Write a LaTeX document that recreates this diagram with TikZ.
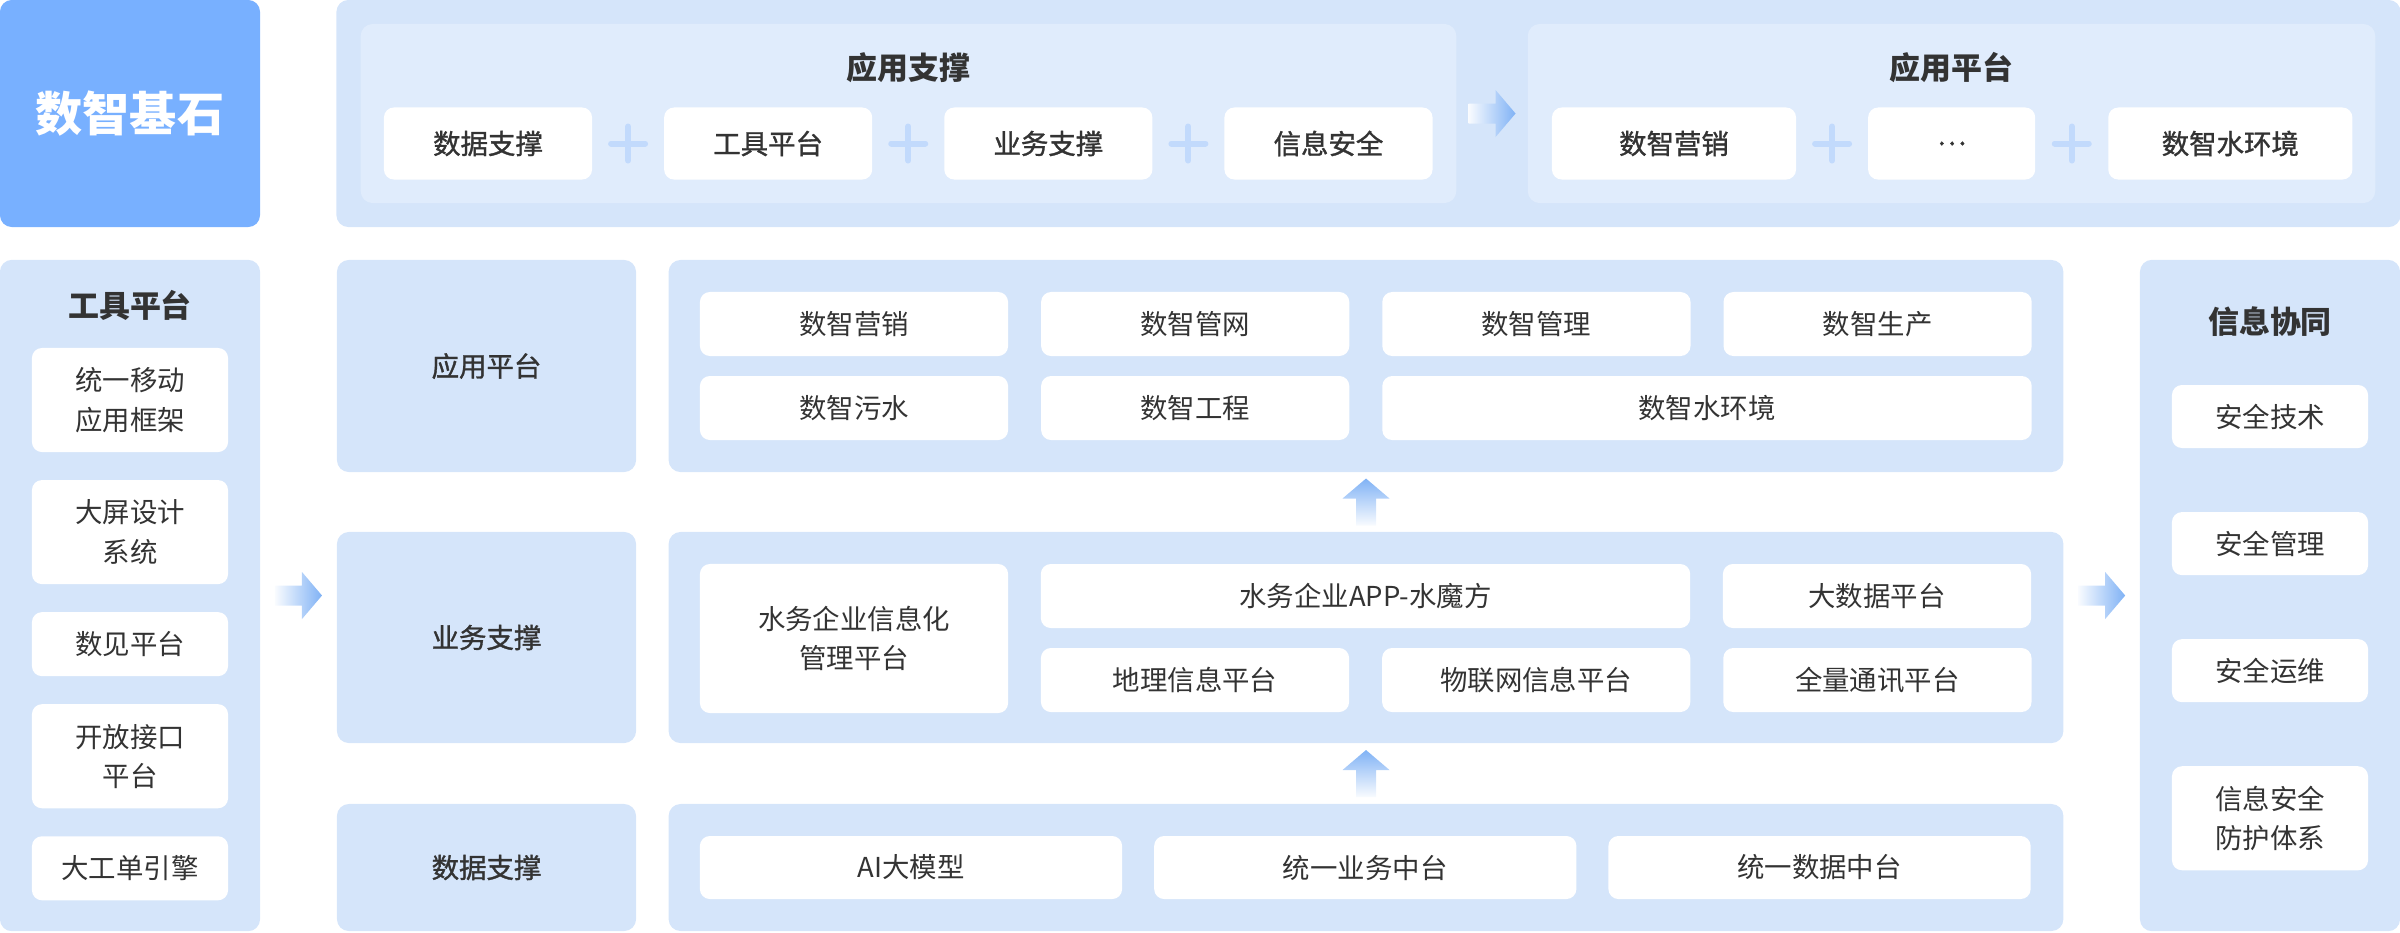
\documentclass[tikz,border=0pt]{standalone}
\usepackage{fontspec}
\setmainfont{Noto Sans CJK SC}
\newfontfamily\medfont[FakeBold=1.2]{Noto Sans CJK SC}
\usetikzlibrary{calc, positioning}
\definecolor{BaseBlue}{RGB}{120,176,255}
\definecolor{PanelBlue}{RGB}{213,229,250}
\definecolor{InnerBlue}{RGB}{224,236,252}
\definecolor{PlusBlue}{RGB}{194,218,252}
\definecolor{ArrowBlue}{RGB}{128,178,245}
\definecolor{TextDark}{RGB}{51,51,51}

\begin{document}
\begin{tikzpicture}[x=0.01cm, y=-0.01cm,
  panel/.style={%
    rectangle, rounded corners=1.2mm,
    fill=PanelBlue, inner sep=0pt, outer sep=0pt},
  innerpanel/.style={panel, fill=InnerBlue},
  cell/.style={%
    rectangle, rounded corners=1mm,
    fill=white, text=TextDark,
    font=\fontsize{7.8}{11.2}\selectfont,
    align=center, inner sep=0pt, outer sep=0pt,
    minimum width=30.8mm, minimum height=6.4mm},
  topcell/.style={cell, font=\medfont\fontsize{7.8}{11.2}\selectfont, minimum height=7.2mm},
  sidecell/.style={cell, minimum width=19.6mm},
  heading/.style={text=TextDark, font=\fontsize{8.8}{11}\selectfont\bfseries, inner sep=0pt},
  rowlabel/.style={panel, text=TextDark, font=\medfont\fontsize{7.8}{11}\selectfont, minimum width=29.9mm},
  plus/.pic={\draw[PlusBlue, line width=0.6mm, line cap=round] (-17,0) -- (17,0) (0,-17) -- (0,17);},
  fatright/.pic={\shade[left color=ArrowBlue!5, right color=ArrowBlue]
    (-23.5,-10) -- (3.5,-10) -- (3.5,-23.5) -- (23.5,0) -- (3.5,23.5) -- (3.5,10) -- (-23.5,10) -- cycle;},
  fatup/.pic={\shade[bottom color=ArrowBlue!5, top color=ArrowBlue]
    (-10,23.5) -- (-10,-3.5) -- (-23.5,-3.5) -- (0,-23.5) -- (23.5,-3.5) -- (10,-3.5) -- (10,23.5) -- cycle;}
]
\useasboundingbox (0,0) rectangle (2400,932);

% top band
\node[panel, fill=BaseBlue, text=white, font=\fontsize{13.4}{16}\selectfont\bfseries,
  minimum width=26mm, minimum height=22.7mm] (base) at (130,113.5) {数智基石};
\node[panel, minimum width=206.3mm, minimum height=22.7mm] (band) at (1368.5,113.5) {};
\node[innerpanel, minimum width=109.5mm, minimum height=17.9mm] (supp) at (908.5,113.5) {};
\node[innerpanel, minimum width=84.7mm, minimum height=17.9mm] (plat) at (1951.5,113.5) {};
\node[heading] (suppT) at (908.5,68) {应用支撑};
\node[heading] (platT) at (1951.5,68) {应用平台};

\node[topcell, minimum width=20.8mm] (sData) at (488,143.5) {数据支撑};
\node[topcell, minimum width=20.8mm, right=7.2mm of sData] (sTool) {工具平台};
\node[topcell, minimum width=20.8mm, right=7.2mm of sTool] (sBiz)  {业务支撑};
\node[topcell, minimum width=20.8mm, right=7.2mm of sBiz]  (sSec)  {信息安全};

\node[topcell, minimum width=24.4mm] (pMkt) at (1674,143.5) {数智营销};
\node[topcell, minimum width=16.7mm, right=7.2mm of pMkt] (pDots) {…};
\node[topcell, minimum width=24.4mm, right=7.3mm of pDots] (pEnv) {数智水环境};

\pic at ($(sData.east)!0.5!(sTool.west)$) {plus};
\pic at ($(sTool.east)!0.5!(sBiz.west)$)  {plus};
\pic at ($(sBiz.east)!0.5!(sSec.west)$)   {plus};
\pic at ($(pMkt.east)!0.5!(pDots.west)$)  {plus};
\pic at ($(pDots.east)!0.5!(pEnv.west)$)  {plus};
\pic at ($(supp.east)!0.5!(plat.west)$)   {fatright};

% tool column
\node[panel, minimum width=26mm, minimum height=67.1mm] (tool) at (130,595.5) {};
\node[heading] (toolT) at (130,305) {工具平台};
\node[sidecell, minimum height=10.4mm] (t1) at (130,400) {统一移动\\应用框架};
\node[sidecell, minimum height=10.4mm, below=2.8mm of t1] (t2) {大屏设计\\系统};
\node[sidecell, minimum height=6.4mm,  below=2.8mm of t2] (t3) {数见平台};
\node[sidecell, minimum height=10.4mm, below=2.8mm of t3] (t4) {开放接口\\平台};
\node[sidecell, minimum height=6.4mm,  below=2.8mm of t4] (t5) {大工单引擎};

% row labels
\node[rowlabel, minimum height=21.2mm] (lblA) at (486.5,366)   {应用平台};
\node[rowlabel, minimum height=21.1mm] (lblB) at (486.5,637.5) {业务支撑};
\node[rowlabel, minimum height=12.7mm] (lblC) at (486.5,867.5) {数据支撑};

% main panels
\node[panel, minimum width=139.4mm, minimum height=21.2mm] (mainA) at (1366,366)   {};
\node[panel, minimum width=139.4mm, minimum height=21.1mm] (mainB) at (1366,637.5) {};
\node[panel, minimum width=139.4mm, minimum height=12.7mm] (mainC) at (1366,867.5) {};

\node[cell] (a1) at (854,324) {数智营销};
\node[cell, right=3.3mm of a1] (a2) {数智管网};
\node[cell, right=3.3mm of a2] (a3) {数智管理};
\node[cell, right=3.3mm of a3] (a4) {数智生产};
\node[cell] (a5) at (854,408) {数智污水};
\node[cell, right=3.3mm of a5] (a6) {数智工程};
\node[cell, right=3.3mm of a6, minimum width=64.9mm] (a7) {数智水环境};

\node[cell, minimum height=14.9mm] (b1) at (854,638.5) {水务企业信息化\\管理平台};
\node[cell, minimum width=64.9mm] (b2) at (1365.5,596) {水务企业APP-水魔方};
\node[cell] (b3) at (1877,596) {大数据平台};
\node[cell] (b4) at (1195,680) {地理信息平台};
\node[cell, right=3.3mm of b4] (b5) {物联网信息平台};
\node[cell, right=3.3mm of b5] (b6) {全量通讯平台};

\node[cell, minimum width=42.2mm, minimum height=6.3mm] (c1) at (911,867.5) {AI大模型};
\node[cell, minimum width=42.2mm, minimum height=6.3mm, right=3.2mm of c1] (c2) {统一业务中台};
\node[cell, minimum width=42.2mm, minimum height=6.3mm, right=3.2mm of c2] (c3) {统一数据中台};

% info column
\node[panel, minimum width=26mm, minimum height=67.1mm] (info) at (2270,595.5) {};
\node[heading] (infoT) at (2270,322) {信息协同};
\node[sidecell, minimum height=6.3mm] (i1) at (2270,416.5) {安全技术};
\node[sidecell, minimum height=6.3mm,  below=6.4mm of i1] (i2) {安全管理};
\node[sidecell, minimum height=6.3mm,  below=6.4mm of i2] (i3) {安全运维};
\node[sidecell, minimum height=10.4mm, below=6.4mm of i3] (i4) {信息安全\\防护体系};

% arrows
\pic at ($(tool.east)!0.5!(tool.east -| lblB.west)$)  {fatright};
\pic at ($(info.west)!0.5!(info.west -| mainB.east)$) {fatright};
\pic at ($(mainA.south)!0.5!(mainB.north)$) {fatup};
\pic at ($(mainB.south)!0.5!(mainC.north)$) {fatup};
\end{tikzpicture}
\end{document}
